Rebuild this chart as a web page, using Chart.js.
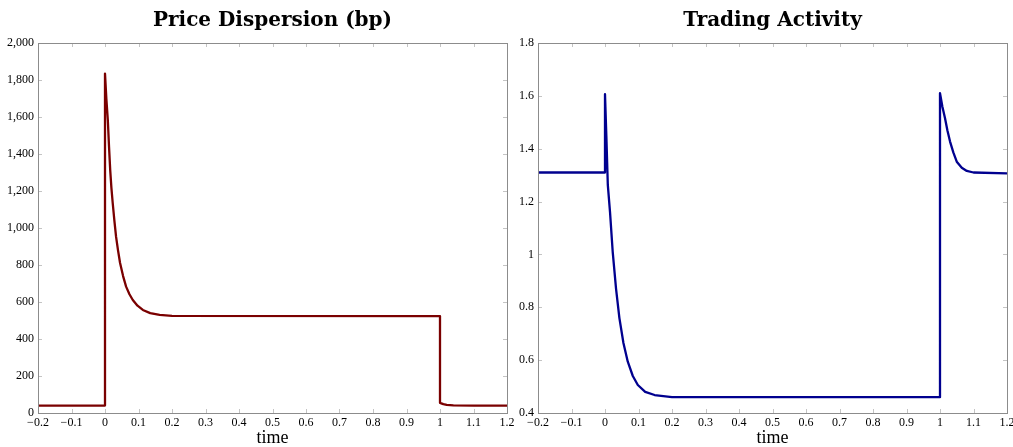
<!DOCTYPE html>
<html>
<head>
<meta charset="utf-8">
<script src="https://cdn.jsdelivr.net/npm/chart.js@4"></script>
<style>
  body { margin: 0; background: #fff; overflow: hidden; width: 1013px; height: 447px; }
  canvas { position: absolute; top: 0; left: 0; }
</style>
</head>
<body>
<canvas id="leftChart" width="1013" height="447"></canvas>
<canvas id="rightChart" width="1022" height="447"></canvas>
<script>
// values
const leftTime = [-0.2, 0, 0, 0.004, 0.0084, 0.012, 0.0155, 0.019, 0.023, 0.028, 0.033, 0.039, 0.045, 0.054, 0.063, 0.073, 0.083, 0.097, 0.113, 0.135, 0.163, 0.2, 1, 1, 1.01, 1.02, 1.04, 1.1, 1.2];
const leftValue = [40, 40, 1835, 1700, 1584, 1440, 1314, 1220, 1135, 1040, 953, 878, 811, 740, 683, 642, 611, 580, 557, 540, 530, 525, 524, 55, 48, 44, 41, 40, 40];

const rightTime = [-0.2, 0, 0, 0.004, 0.0084, 0.015, 0.023, 0.033, 0.043, 0.055, 0.068, 0.083, 0.098, 0.12, 0.148, 0.2, 1, 1, 1.007, 1.015, 1.022, 1.03, 1.04, 1.05, 1.065, 1.08, 1.1, 1.2];
const rightValue = [1.31, 1.31, 1.606, 1.45, 1.263, 1.16, 1.010, 0.87, 0.759, 0.665, 0.594, 0.540, 0.506, 0.48, 0.468, 0.46, 0.46, 1.61, 1.56, 1.515, 1.47, 1.427, 1.385, 1.351, 1.328, 1.316, 1.31, 1.307];

const xTicks = [-0.2, -0.1, 0, 0.1, 0.2, 0.3, 0.4, 0.5, 0.6, 0.7, 0.8, 0.9, 1, 1.1, 1.2];

const serif = "'Liberation Serif', 'DejaVu Serif', serif";

function toPoints(xs, ys) {
    var pts = [];
    for (var i = 0; i < xs.length; i++) {
        pts.push({x: xs[i], y: ys[i]});
    }
    return pts;
}

function fmtTick(v) {
    var s = String(Math.round(v * 10) / 10);
    return s.replace('-', '\u2212');
}

// pgfplots style frame with inner tick marks on all sides
const framePlugin = {
    id: 'frame',
    afterDatasetsDraw(chart) {
        const ctx = chart.ctx;
        const a = chart.chartArea;
        const xs = chart.scales.x, ys = chart.scales.y;
        ctx.save();
        ctx.strokeStyle = '#c4c4c4';
        ctx.lineWidth = 1;
        ctx.beginPath();
        xs.ticks.forEach(t => {
            var px = Math.round(xs.getPixelForValue(t.value)) + 0.5;
            ctx.moveTo(px, a.bottom); ctx.lineTo(px, a.bottom - 4);
            ctx.moveTo(px, a.top); ctx.lineTo(px, a.top + 4);
        });
        ys.ticks.forEach(t => {
            var py = Math.round(ys.getPixelForValue(t.value)) + 0.5;
            ctx.moveTo(a.left, py); ctx.lineTo(a.left + 4, py);
            ctx.moveTo(a.right, py); ctx.lineTo(a.right - 4, py);
        });
        ctx.stroke();
        ctx.strokeStyle = '#8c8c8c';
        ctx.strokeRect(Math.round(a.left) + 0.5, Math.round(a.top) + 0.5,
                       Math.round(a.right - a.left), Math.round(a.bottom - a.top));
        ctx.restore();
    }
};

function makeChart(canvasId, title, xs, ys, color, yMin, yMax, yStep, yFmt, padLeft, padRight, yWidth) {
    return new Chart(document.getElementById(canvasId), {
        type: 'scatter',
        data: {
            datasets: [{
                data: toPoints(xs, ys),
                showLine: true,
                borderColor: color,
                borderWidth: 2.3,
                borderJoinStyle: 'round',
                pointRadius: 0,
                tension: 0
            }]
        },
        options: {
            responsive: false,
            animation: false,
            layout: { padding: { left: padLeft, right: padRight, top: 0, bottom: 0 } },
            plugins: {
                legend: { display: false },
                tooltip: { enabled: false },
                title: {
                    display: true,
                    text: title,
                    fullSize: false,
                    color: '#000',
                    font: { family: "'DejaVu Serif', serif", size: 20, weight: 'bold', lineHeight: 1.2 },
                    padding: { top: 9, bottom: 10 }
                }
            },
            scales: {
                x: {
                    type: 'linear',
                    min: -0.2,
                    max: 1.2,
                    afterBuildTicks: axis => { axis.ticks = xTicks.map(v => ({value: v})); },
                    afterFit: axis => { axis.height = 34; },
                    grid: { display: false, drawTicks: false },
                    border: { display: false },
                    ticks: {
                        autoSkip: false,
                        maxRotation: 0,
                        padding: 3,
                        color: '#000',
                        font: { family: serif, size: 12 },
                        callback: v => fmtTick(v)
                    },
                    title: {
                        display: true,
                        text: 'time',
                        color: '#000',
                        font: { family: serif, size: 18, lineHeight: 1.0 },
                        padding: { top: 0, bottom: 0 }
                    }
                },
                y: {
                    min: yMin,
                    max: yMax,
                    afterFit: axis => { axis.width = yWidth; },
                    grid: { display: false, drawTicks: false },
                    border: { display: false },
                    ticks: {
                        stepSize: yStep,
                        padding: 4,
                        color: '#000',
                        font: { family: serif, size: 12 },
                        callback: v => yFmt(v)
                    }
                }
            }
        },
        plugins: [framePlugin]
    });
}

makeChart('leftChart', 'Price Dispersion (bp)', leftTime, leftValue, '#7a0000',
          0, 2000, 200, v => v.toLocaleString('en-US'), 0, 1013 - 507, 38);

makeChart('rightChart', 'Trading Activity', rightTime, rightValue, '#00008f',
          0.4, 1.8, 0.2, v => String(Math.round(v * 10) / 10), 510, 1022 - 1007, 28);
</script>
</body>
</html>
